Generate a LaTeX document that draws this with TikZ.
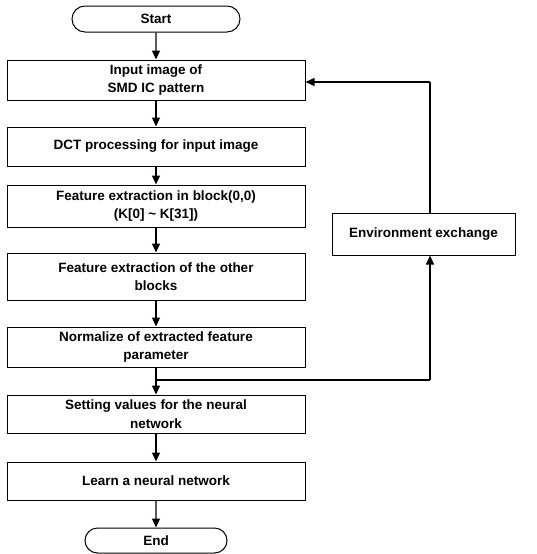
\documentclass[tikz,border=0pt]{standalone}
\usepackage{fontspec}
\setmainfont{Liberation Sans}
\usetikzlibrary{arrows.meta,shapes.misc}
\begin{document}
\begin{tikzpicture}[x=1pt,y=-1pt,
  box/.style={draw,line width=1pt,minimum width=298pt,inner sep=0pt,align=center,
    font=\fontsize{13.5}{18.5}\selectfont\bfseries},
  term/.style={draw,line width=1pt,rounded rectangle,inner sep=0pt,align=center,
    font=\fontsize{13.5}{18.5}\selectfont\bfseries},
  flow/.style={line width=1.4pt,-{Triangle[length=9pt,width=8pt]}},
  line/.style={line width=1.4pt}]
\useasboundingbox (0,0) rectangle (536,554);
\node[term,minimum width=168pt,minimum height=26pt] (start) at (156,19) {Start};
\node[box,minimum height=40pt] (b1) at (156,80) {Input image of\\SMD IC pattern};
\node[box,minimum height=39pt] (b2) at (156,146.5) {DCT processing for input image};
\node[box,minimum height=42pt] (b3) at (156,206) {Feature extraction in block(0,0)\\(K[0] \textasciitilde{} K[31])};
\node[box,minimum height=47pt] (b4) at (156,276.5) {Feature extraction of the other\\blocks};
\node[box,minimum height=40pt] (b5) at (156,347) {Normalize of extracted feature\\parameter};
\node[box,minimum height=38pt] (b6) at (156,414) {Setting values for the neural\\network};
\node[box,minimum height=38pt] (b7) at (156,481) {Learn a neural network};
\node[term,minimum width=142pt,minimum height=25pt] (end) at (156,540.5) {End};
\node[box,minimum width=183pt,minimum height=42pt] (env) at (423.5,234) {Environment exchange};
\coordinate (j) at (156,380);
\coordinate (rb) at (430,380);
\coordinate (rt) at (430,82);
\draw[flow] (start) -- (b1);
\draw[flow] (b1) -- (b2);
\draw[flow] (b2) -- (b3);
\draw[flow] (b3) -- (b4);
\draw[flow] (b4) -- (b5);
\draw[flow] (b5) -- (b6);
\draw[flow] (b6) -- (b7);
\draw[flow] (b7) -- (end);
\draw[line] (j) -- (rb);
\draw[flow] (rb) -- (rb |- env.south);
\draw[line] (rt |- env.north) -- (rt);
\draw[flow] (rt) -- (rt -| b1.east);
\end{tikzpicture}
\end{document}
